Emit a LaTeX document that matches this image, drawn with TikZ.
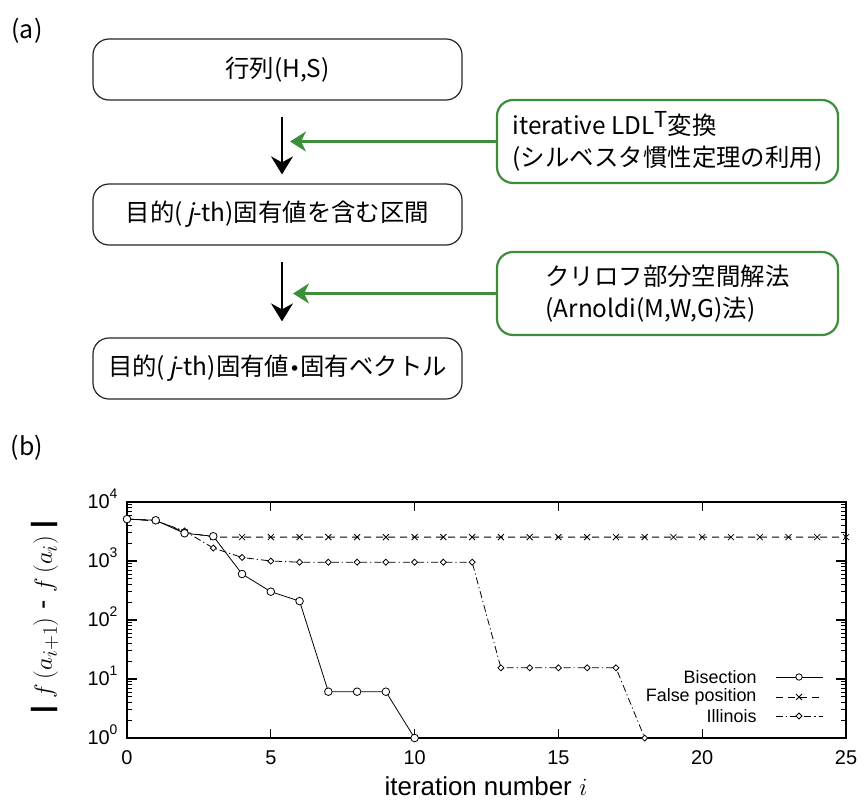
\documentclass[tikz,border=0pt]{standalone}
\usepackage{fontspec}
\setmainfont{Noto Sans CJK JP}
\newfontfamily\slantj{Noto Sans CJK JP}[FakeSlant=0.2]
\newfontfamily\plotfont{Liberation Sans}
\newfontfamily\djv{DejaVu Sans}
\usetikzlibrary{arrows.meta}
\definecolor{ggreen}{RGB}{61,142,58}
\begin{document}
\begin{tikzpicture}[x=1bp,y=-1bp,
  wbox/.style={draw=black!85, line width=1.2bp, rounded corners=16bp, minimum width=369bp, minimum height=61bp, font=\fontsize{24.5}{28}\selectfont, inner sep=0},
  gbox/.style={draw=ggreen, line width=2.2bp, rounded corners=16bp, minimum width=341bp, minimum height=83bp, align=left, font=\fontsize{24.5}{32}\selectfont, inner sep=0},
  barrow/.style={-{Stealth[length=18bp,width=22bp,inset=6bp]}, line width=2bp, black},
  garrow/.style={-{Stealth[length=16bp,width=20bp,inset=5bp]}, line width=3bp, ggreen},
  lbl/.style={font=\fontsize{25}{25}\selectfont},
  bis/.style={line width=0.8bp},
  fal/.style={line width=0.8bp, dash pattern=on 7bp off 5bp},
  ill/.style={line width=0.8bp, dash pattern=on 7bp off 3bp on 1.2bp off 3bp},
  tlab/.style={font=\plotfont\fontsize{20}{20}\selectfont},
  leg/.style={font=\plotfont\fontsize{18}{18}\selectfont, anchor=east},
]
\useasboundingbox (0,0) rectangle (865,800);

% ---------- (a) ----------
\node[lbl] (la) at (27,31) {(a)};
\node[wbox] (m)  at (277.5,69.5)  {行列(H,S)};
\node[wbox] (iv) at (277.5,214.5) {目的(\,{\slantj j}-th)固有値を含む区間};
\node[wbox] (ev) at (277.5,368.5) {目的(\,{\slantj j}-th)固有値{\djv\fontsize{19}{19}\selectfont •}固有ベクトル};
\node[gbox] (ldl) at (667.5,141.5) {iterative LDL\raisebox{0.28em}{\fontsize{22}{22}\selectfont T}変換\\(シルベスタ慣性定理の利用)};
\node[gbox] (kry) at (667.5,293.5) {クリロフ部分空間解法\\(Arnoldi(M,W,G)法)};

\draw[barrow, shorten <=16bp, shorten >=9bp] ([xshift=4.5bp]m.south) -- ([xshift=4.5bp]iv.north);
\draw[barrow, shorten <=16bp, shorten >=16bp] ([xshift=4.5bp]iv.south) -- ([xshift=4.5bp]ev.north);
\coordinate (t1) at (290,141.5);
\coordinate (t2) at (293,293.5);
\draw[garrow] (ldl.west) -- (t1);
\draw[garrow] (kry.west) -- (t2);

% ---------- (b) ----------
\node[lbl] (lb) at (27,448) {(b)};

\begin{scope}[shift={(127bp,-738bp)}, x=28.76bp, y=59bp]
  % frame
  \draw[line width=1.5bp] (0,0) rectangle (25,4);
  \foreach \i in {5,10,15,20} {
    \draw[line width=1.2bp] (\i,0) -- ++(0,9bp);
    \draw[line width=1.2bp] (\i,4) -- ++(0,-9bp);
  }
  \foreach \i in {0,5,10,15,20,25}
    \node[tlab] (xt\i) at ([yshift=-20bp]\i,0) {\i};
  \foreach \d in {1,2,3} {
    \draw[line width=1.2bp] (0,\d) -- ++(10bp,0);
    \draw[line width=1.2bp] (25,\d) -- ++(-10bp,0);
  }
  \foreach \d in {0,1,2,3} \foreach \k in {2,...,9} {
    \draw[line width=0.9bp] (0,{\d+log10(\k)}) -- ++(5bp,0);
    \draw[line width=0.9bp] (25,{\d+log10(\k)}) -- ++(-5bp,0);
  }
  \foreach \d in {0,1,2,3,4}
    \node[tlab, anchor=east] (yt\d) at ([xshift=-6bp,yshift=3bp]0,\d) {10\raisebox{0.5em}{\fontsize{14}{14}\selectfont\d}};

  % False position
  \draw[fal] (0,3.71) -- (1,3.69) -- (2,3.49) -- (3,3.405) -- (25,3.405);
  \foreach \x/\y in {0/3.71,1/3.69,2/3.49}
    \draw[line width=0.8bp] ([shift={(-3bp,-3bp)}]\x,\y) -- ++(6bp,6bp) ([shift={(-3bp,3bp)}]\x,\y) -- ++(6bp,-6bp);
  \foreach \x in {3,...,25}
    \draw[line width=0.8bp] ([shift={(-3bp,-3bp)}]\x,3.405) -- ++(6bp,6bp) ([shift={(-3bp,3bp)}]\x,3.405) -- ++(6bp,-6bp);

  % Illinois
  \draw[ill] (0,3.71) -- (1,3.68) -- (2,3.51) -- (3,3.22) -- (4,3.06) -- (5,3.0) -- (6,2.98) -- (12,2.98) -- (13,1.19) -- (17,1.19) -- (18,0);
  \foreach \x/\y in {0/3.71,1/3.68,2/3.51,3/3.22,4/3.06,5/3.0,6/2.98,7/2.98,8/2.98,9/2.98,10/2.98,11/2.98,12/2.98,13/1.19,14/1.19,15/1.19,16/1.19,17/1.19,18/0}
    \draw[line width=0.8bp, fill=white] ([xshift=-3bp]\x,\y) -- ++(3bp,3bp) -- ++(3bp,-3bp) -- ++(-3bp,-3bp) -- cycle;

  % Bisection
  \draw[bis] (0,3.71) -- (1,3.69) -- (2,3.47) -- (3,3.42) -- (4,2.78) -- (5,2.48) -- (6,2.32) -- (7,0.785) -- (9,0.785) -- (10,0);
  \foreach \x/\y in {0/3.71,1/3.69,2/3.47,3/3.42,4/2.78,5/2.48,6/2.32,7/0.785,8/0.785,9/0.785,10/0}
    \draw[line width=0.8bp, fill=white] (\x,\y) circle[radius=3.8bp];
\end{scope}

% legend
\node[leg] (lg1) at (760,677) {Bisection};
\node[leg] (lg2) at (760,697) {False position};
\node[leg] (lg3) at (760,716) {Illinois};
\coordinate (s1a) at (776,677); \coordinate (s1b) at (823,677); \coordinate (s1m) at (799,677);
\coordinate (s2a) at (776,697); \coordinate (s2b) at (823,697); \coordinate (s2m) at (799,697);
\coordinate (s3a) at (776,716); \coordinate (s3b) at (823,716); \coordinate (s3m) at (799,716);
\draw[bis] (s1a) -- (s1b);
\draw[line width=0.8bp, fill=white] (s1m) circle[radius=3.2bp];
\draw[fal] (s2a) -- (s2b);
\draw[line width=0.8bp] ([shift={(-3bp,-3bp)}]s2m) -- ++(6bp,6bp) ([shift={(-3bp,3bp)}]s2m) -- ++(6bp,-6bp);
\draw[ill] (s3a) -- (s3b);
\draw[line width=0.8bp, fill=white] ([xshift=-3bp]s3m) -- ++(3bp,3bp) -- ++(3bp,-3bp) -- ++(-3bp,-3bp) -- cycle;

% axis labels
\node[font=\plotfont\fontsize{26}{26}\selectfont] (xl) at (486,786) {iteration number $i$};
\node[rotate=90, font=\plotfont\fontsize{28}{28}\selectfont] (yl) at (45,617) {\textbf{|} $f\,(a_{i+1})$ - $f\,(a_i)$ \textbf{|}};
\end{tikzpicture}
\end{document}
